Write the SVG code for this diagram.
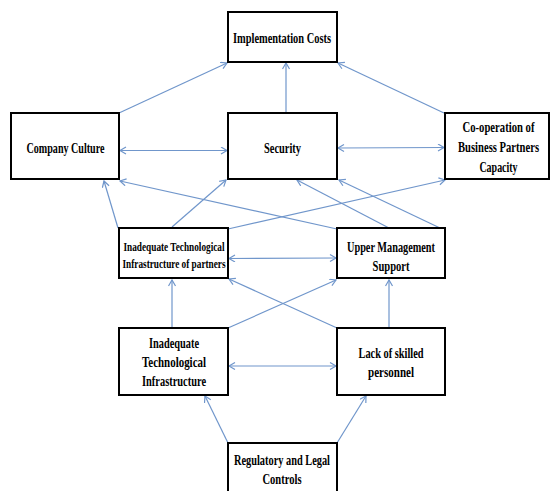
<svg xmlns="http://www.w3.org/2000/svg" width="550" height="491" viewBox="0 0 550 491">
<style>
.box{fill:#fff;stroke:#000;stroke-width:2}
.t{font-family:"Liberation Serif","Times New Roman",serif;font-weight:bold;font-size:14px;fill:#000;text-anchor:middle}
.s{font-size:13px}
.c line{stroke:#7096cb;stroke-width:1.2;fill:none}
</style>
<defs>
<marker id="ah" markerWidth="10" markerHeight="10" refX="7" refY="4" orient="auto-start-reverse" markerUnits="userSpaceOnUse">
<path d="M1,0.5 L7,4 L1,7.5" fill="none" stroke="#7096cb" stroke-width="1.2"/>
</marker>
</defs>
<rect width="550" height="491" fill="#fff"/>
<g class="c" id="connectors">
<line x1="119" y1="113" x2="227" y2="63" marker-end="url(#ah)"/>
<line x1="286" y1="113" x2="286" y2="63" marker-end="url(#ah)"/>
<line x1="444" y1="113" x2="338" y2="63" marker-end="url(#ah)"/>
<line x1="120" y1="150.5" x2="227" y2="150.5" marker-start="url(#ah)" marker-end="url(#ah)"/>
<line x1="338" y1="148" x2="444" y2="147.5" marker-start="url(#ah)" marker-end="url(#ah)"/>
<line x1="118" y1="228" x2="104" y2="181" marker-end="url(#ah)"/>
<line x1="172" y1="227" x2="226" y2="180" marker-end="url(#ah)"/>
<line x1="228" y1="229" x2="445" y2="180" marker-end="url(#ah)"/>
<line x1="337" y1="229" x2="120" y2="181" marker-end="url(#ah)"/>
<line x1="389" y1="228" x2="297" y2="180" marker-end="url(#ah)"/>
<line x1="440" y1="228" x2="339" y2="180" marker-end="url(#ah)"/>
<line x1="229" y1="258.5" x2="336" y2="258" marker-start="url(#ah)" marker-end="url(#ah)"/>
<line x1="172" y1="328" x2="172" y2="280" marker-end="url(#ah)"/>
<line x1="228" y1="328" x2="336" y2="280" marker-end="url(#ah)"/>
<line x1="337" y1="328" x2="229" y2="279" marker-end="url(#ah)"/>
<line x1="389" y1="328" x2="389" y2="280" marker-end="url(#ah)"/>
<line x1="229" y1="366" x2="336" y2="366" marker-start="url(#ah)" marker-end="url(#ah)"/>
<line x1="228" y1="443" x2="205" y2="396" marker-end="url(#ah)"/>
<line x1="337" y1="443" x2="366" y2="396" marker-end="url(#ah)"/>
</g>
<g id="implementation-costs">
<rect class="box" x="228" y="12" width="109" height="50"/>
<text class="t" x="282" y="43" textLength="98" lengthAdjust="spacingAndGlyphs">Implementation Costs</text>
</g>
<g id="company-culture">
<rect class="box" x="11" y="113" width="108" height="66"/>
<text class="t" x="65.5" y="153" textLength="78" lengthAdjust="spacingAndGlyphs">Company Culture</text>
</g>
<g id="security">
<rect class="box" x="228" y="113" width="109" height="66"/>
<text class="t" x="282.5" y="153" textLength="37" lengthAdjust="spacingAndGlyphs">Security</text>
</g>
<g id="cooperation">
<rect class="box" x="445" y="113" width="104" height="66"/>
<g transform="translate(498.5 0) scale(0.72 1)">
<text class="t" x="0" y="132.5" textLength="100" lengthAdjust="spacingAndGlyphs">Co-operation of</text>
<text class="t" x="0" y="152.5" textLength="112.5" lengthAdjust="spacingAndGlyphs">Business Partners</text>
<text class="t" x="0" y="172" textLength="53" lengthAdjust="spacingAndGlyphs">Capacity</text>
</g>
</g>
<g id="infra-partners">
<rect class="box" x="119" y="228" width="109" height="50"/>
<text class="t s" x="174" y="251" textLength="101" lengthAdjust="spacingAndGlyphs">Inadequate Technological</text>
<text class="t s" x="174" y="268" textLength="103" lengthAdjust="spacingAndGlyphs">Infrastructure of partners</text>
</g>
<g id="upper-management">
<rect class="box" x="337" y="228" width="108" height="50"/>
<text class="t" x="391" y="252" textLength="88" lengthAdjust="spacingAndGlyphs">Upper Management</text>
<text class="t" x="391" y="271" textLength="37" lengthAdjust="spacingAndGlyphs">Support</text>
</g>
<g id="infra">
<rect class="box" x="119" y="328" width="109" height="67"/>
<text class="t" x="174" y="348" textLength="50" lengthAdjust="spacingAndGlyphs">Inadequate</text>
<text class="t" x="174" y="367" textLength="64" lengthAdjust="spacingAndGlyphs">Technological</text>
<text class="t" x="174" y="386" textLength="64" lengthAdjust="spacingAndGlyphs">Infrastructure</text>
</g>
<g id="lack-skilled">
<rect class="box" x="337" y="328" width="108" height="67"/>
<text class="t" x="391" y="358" textLength="65" lengthAdjust="spacingAndGlyphs">Lack of skilled</text>
<text class="t" x="391" y="377" textLength="46" lengthAdjust="spacingAndGlyphs">personnel</text>
</g>
<g id="regulatory">
<rect class="box" x="228" y="443" width="109" height="60"/>
<text class="t" x="282" y="465" textLength="96" lengthAdjust="spacingAndGlyphs">Regulatory and Legal</text>
<text class="t" x="282" y="484" textLength="39" lengthAdjust="spacingAndGlyphs">Controls</text>
</g>
</svg>
